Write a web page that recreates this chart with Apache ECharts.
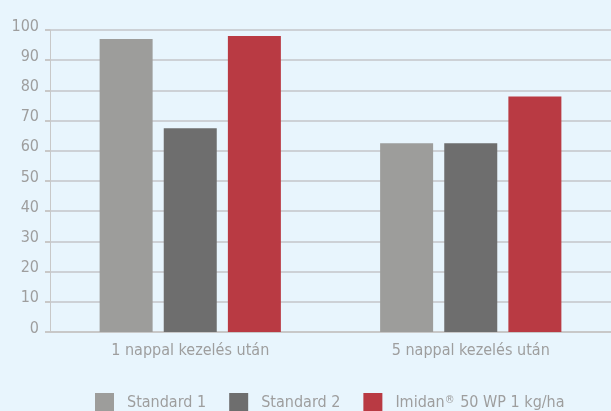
<!DOCTYPE html>
<html>
<head>
<meta charset="utf-8">
<script src="https://cdn.jsdelivr.net/npm/echarts@6/dist/echarts.min.js"></script>
<style>
  html, body { margin: 0; padding: 0; background: #e8f5fd; }
  #chart { width: 611px; height: 411px; }
</style>
</head>
<body>
<div id="chart"></div>
<script>
// Treatment timing groups
const categories = ['1 nappal kezelés után', '5 nappal kezelés után'];
// Efficacy (%) per product
const standard1 = [97, 62.5];
const standard2 = [67.5, 62.5];
const imidan = [98, 78];
const seriesNames = ['Standard 1', 'Standard 2', 'Imidan® 50 WP 1 kg/ha'];
const seriesColors = ['#9d9d9b', '#6e6e6e', '#b93a43'];

const FONT = '"DejaVu Sans Condensed", "DejaVu Sans", sans-serif';
const TEXT_GRAY = '#9e9e9e';

const chart = echarts.init(document.getElementById('chart'), null, { renderer: 'canvas' });

const values = [standard1, standard2, imidan];
const series = values.map((data, i) => ({
  name: seriesNames[i],
  type: 'bar',
  data: data,
  barWidth: 53,
  barGap: '21%',
  itemStyle: { color: seriesColors[i] },
  emphasis: { disabled: true }
}));

chart.setOption({
  backgroundColor: '#e8f5fd',
  animation: false,
  grid: { left: 50, right: 0, top: 30, bottom: 79 },
  legend: {
    data: seriesNames,
    left: 95,
    top: 393,
    padding: 0,
    itemWidth: 19,
    itemHeight: 19,
    itemGap: 23,
    icon: 'rect',
    textStyle: {
      color: TEXT_GRAY,
      fontFamily: FONT,
      fontSize: 16,
      padding: [0, 0, 0, 8],
      rich: {
        t: { color: TEXT_GRAY, fontFamily: FONT, fontSize: 16 },
        s: { color: TEXT_GRAY, fontFamily: FONT, fontSize: 11, verticalAlign: 'top', padding: [0, 1, 5, 0] }
      }
    },
    formatter: function (name) {
      if (name.indexOf('®') >= 0) {
        const parts = name.split('®');
        return '{t|' + parts[0] + '}{s|®}{t|' + parts[1] + '}';
      }
      return name;
    }
  },
  xAxis: {
    type: 'category',
    data: categories,
    axisLine: { show: true, lineStyle: { color: '#c8c8c8', width: 2 } },
    axisTick: { show: false },
    axisLabel: {
      color: TEXT_GRAY,
      fontFamily: FONT,
      fontSize: 16,
      margin: 11
    }
  },
  yAxis: {
    type: 'value',
    min: 0,
    max: 100,
    interval: 10,
    axisLine: { show: true, lineStyle: { color: '#c8c8c8', width: 1 } },
    axisTick: { show: true, length: 5, lineStyle: { color: '#c8c8c8', width: 2 } },
    splitLine: { show: true, lineStyle: { color: '#cdd1d6', width: 2 } },
    axisLabel: {
      color: TEXT_GRAY,
      fontFamily: FONT,
      fontSize: 16,
      margin: 11,
      verticalAlign: 'bottom',
      lineHeight: 7
    }
  },
  series: series
});
</script>
</body>
</html>
